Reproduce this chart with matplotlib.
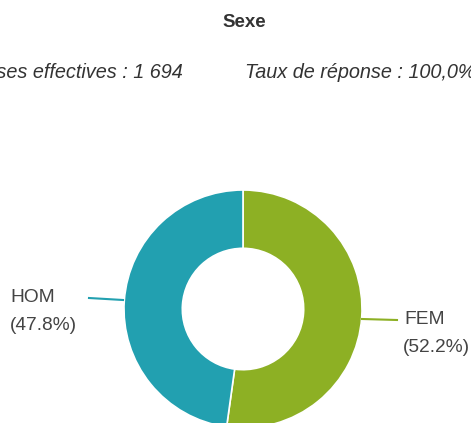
import matplotlib
matplotlib.use("Agg")
import matplotlib.pyplot as plt

labels = ["FEM", "HOM"]
shares = [52.2, 47.8]
colors = ["#8DB024", "#22A0B0"]
title = "Sexe"
left_note = "Réponses effectives : 1 694"
right_note = "Taux de réponse : 100,0%"

W, H = 471, 423
fig = plt.figure(figsize=(W / 100, H / 100), dpi=100)
ax = fig.add_axes([0, 0, 1, 1])
ax.set_xlim(0, W)
ax.set_ylim(0, H)
ax.set_aspect("equal")
ax.axis("off")

plt.rcParams["font.family"] = ["Liberation Sans", "DejaVu Sans"]

cx, cy, r = 243, H - 309, 119
ax.pie(shares, colors=colors, startangle=90, counterclock=False,
       center=(cx, cy), radius=r,
       wedgeprops=dict(width=r * 0.49, edgecolor="white", linewidth=1.2))
ax.set_xlim(0, W)
ax.set_ylim(0, H)

ax.text(244, H - 22, title, ha="center", va="center", fontsize=13.5,
        fontweight="bold", color="#333333")
ax.text(183, H - 72, left_note, ha="right", va="center", fontsize=14.3,
        style="italic", color="#333333")
ax.text(245, H - 72, right_note, ha="left", va="center", fontsize=14.3,
        style="italic", color="#333333")

# leader lines and labels
ax.plot([89, 123], [H - 298, H - 300], color=colors[1], lw=1.5)
ax.text(10, H - 298, labels[1], ha="left", va="center",
        fontsize=13.8, color="#444444")
ax.text(10, H - 326, f"({shares[1]}%)", ha="left", va="center",
        fontsize=13.8, color="#444444")
ax.plot([362, 397], [H - 319, H - 320], color=colors[0], lw=1.5)
ax.text(404, H - 320, labels[0], ha="left", va="center",
        fontsize=13.8, color="#444444")
ax.text(403, H - 347, f"({shares[0]}%)", ha="left", va="center",
        fontsize=13.8, color="#444444")

fig.savefig("out.png", dpi=100, facecolor="white")
